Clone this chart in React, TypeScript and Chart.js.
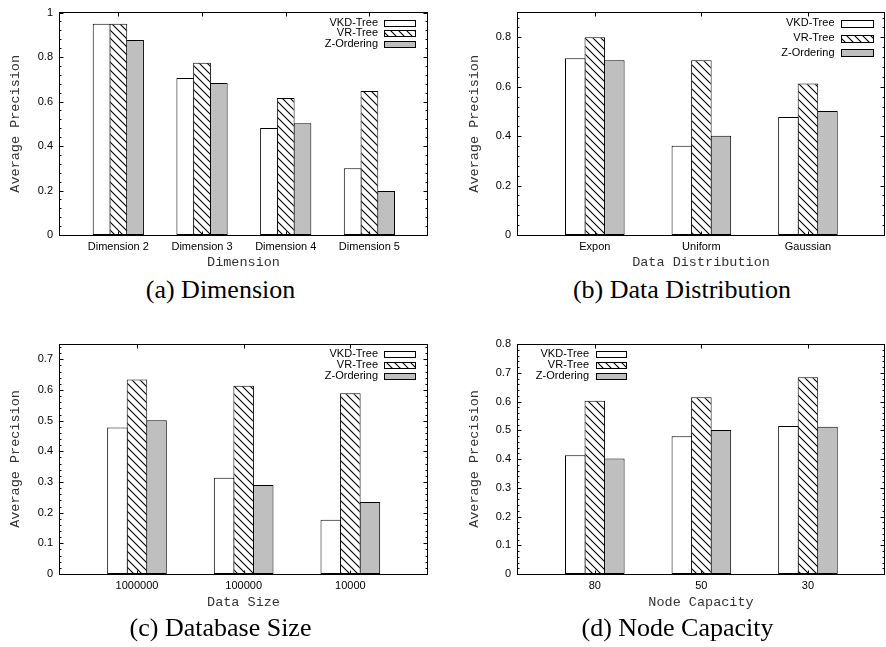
import React, { useEffect, useRef } from 'react';
import { Chart, registerables } from 'chart.js';

Chart.register(...registerables);

// ---------- data ----------
const seriesNames = ['VKD-Tree', 'VR-Tree', 'Z-Ordering'];

const dimLabels = ['Dimension 2', 'Dimension 3', 'Dimension 4', 'Dimension 5'];
const dimVKD = [0.95, 0.706, 0.481, 0.30];
const dimVR = [0.95, 0.775, 0.616, 0.647];
const dimZ = [0.877, 0.683, 0.503, 0.198];

const distLabels = ['Expon', 'Uniform', 'Gaussian'];
const distVKD = [0.715, 0.361, 0.478];
const distVR = [0.80, 0.707, 0.613];
const distZ = [0.707, 0.402, 0.502];

const sizeLabels = ['1000000', '100000', '10000'];
const sizeVKD = [0.478, 0.314, 0.177];
const sizeVR = [0.634, 0.614, 0.589];
const sizeZ = [0.501, 0.29, 0.235];

const capLabels = ['80', '50', '30'];
const capVKD = [0.413, 0.479, 0.515];
const capVR = [0.603, 0.615, 0.684];
const capZ = [0.402, 0.501, 0.512];

const yTitle = 'Average Precision';

// ---------- styling ----------
const SANS = 'Liberation Sans, Arial, sans-serif';
const MONO = 'Liberation Mono, Courier New, monospace';
const SERIF = 'Liberation Serif, Times New Roman, serif';
const GRAY_FILL = '#bfbfbf';

function makeHatch(): CanvasPattern | string {
  const s = 8;
  const c = document.createElement('canvas');
  c.width = s;
  c.height = s;
  const g = c.getContext('2d');
  if (!g) return '#888';
  g.fillStyle = '#fff';
  g.fillRect(0, 0, s, s);
  g.strokeStyle = '#000';
  g.lineWidth = 1.1;
  g.beginPath();
  g.moveTo(-1, -1);
  g.lineTo(s + 1, s + 1);
  g.moveTo(-1, s - 1);
  g.lineTo(1, s + 1);
  g.moveTo(s - 1, -1);
  g.lineTo(s + 1, 1);
  g.stroke();
  const p = g.createPattern(c, 'repeat');
  return p || '#888';
}

type LegendCfg = {
  side: 'left' | 'right';
  offset: number;
  boxW: number;
  boxH: number;
  first: number;
  gap: number;
  textGap: number;
};

type PanelCfg = {
  left: number;
  top: number;
  width: number;
  height: number;
  padTop: number;
  padRight: number;
  yAxisW: number;
  xAxisH: number;
  yTitlePad: number;
  yMax: number;
  yStep: number;
  xMin: number;
  xMax: number;
  catPct: number;
  barPct: number;
  labels: string[];
  series: number[][];
  xTitle: string;
  legend: LegendCfg;
  caption: string;
  capX: number;
  capY: number;
};

const framePlugin = {
  id: 'gnuFrame',
  afterDatasetsDraw(chart: any, _args: any, opts: any) {
    const { ctx, chartArea: a } = chart;
    const xs = chart.scales.x;
    const ys = chart.scales.y;
    const L = Math.floor(a.left) + 0.5;
    const R = Math.floor(a.right) - 0.5;
    const T = Math.floor(a.top) + 0.5;
    const B = Math.floor(a.bottom) + 0.5;
    ctx.save();
    ctx.strokeStyle = '#000';
    ctx.lineWidth = 1;
    ctx.beginPath();
    // y major ticks
    ys.ticks.forEach((t: any) => {
      const py = Math.round(ys.getPixelForValue(t.value)) + 0.5;
      ctx.moveTo(L, py); ctx.lineTo(L + 4, py);
      ctx.moveTo(R, py); ctx.lineTo(R - 4, py);
    });
    // y minor ticks
    const step = opts.yStep / 5;
    for (let k = 1; k * step <= ys.max + 1e-9; k++) {
      if (k % 5 === 0) continue;
      const py = Math.round(ys.getPixelForValue(k * step)) + 0.5;
      ctx.moveTo(L, py); ctx.lineTo(L + 2, py);
      ctx.moveTo(R, py); ctx.lineTo(R - 2, py);
    }
    // x ticks
    xs.ticks.forEach((t: any) => {
      const px = Math.round(xs.getPixelForValue(t.value)) + 0.5;
      ctx.moveTo(px, B); ctx.lineTo(px, B - 4);
      ctx.moveTo(px, T); ctx.lineTo(px, T + 4);
    });
    ctx.stroke();
    ctx.strokeRect(L, T, R - L, B - T);

    // legend (gnuplot style: text then sample box)
    const lg: LegendCfg = opts.legend;
    ctx.font = `11px ${SANS}`;
    ctx.textAlign = 'right';
    ctx.textBaseline = 'middle';
    chart.data.datasets.forEach((ds: any, i: number) => {
      const cy = a.top + lg.first + i * lg.gap;
      const bx = lg.side === 'right' ? a.right - lg.offset - lg.boxW : a.left + lg.offset;
      ctx.fillStyle = '#000';
      ctx.fillText(ds.label, bx - lg.textGap, cy);
      const by = Math.round(cy - lg.boxH / 2) + 0.5;
      const bxr = Math.round(bx) + 0.5;
      ctx.fillStyle = ds.backgroundColor;
      ctx.fillRect(bxr, by, lg.boxW, lg.boxH);
      ctx.strokeRect(bxr, by, lg.boxW, lg.boxH);
    });
    ctx.restore();
  },
};

function Panel({ cfg }: { cfg: PanelCfg }) {
  const ref = useRef<HTMLCanvasElement | null>(null);
  useEffect(() => {
    if (!ref.current) return;
    const hatch = makeHatch();
    const fills = ['#ffffff', hatch, GRAY_FILL];
    const datasets = seriesNames.map((name, i) => ({
      label: name,
      data: cfg.labels.map((_, j) => ({ x: j, y: cfg.series[i][j] })),
      backgroundColor: fills[i],
      borderColor: '#000',
      borderWidth: 1,
      borderSkipped: false,
      categoryPercentage: cfg.catPct,
      barPercentage: cfg.barPct,
    }));
    const tickFont = { family: SANS, size: 11 };
    const monoFont = { family: MONO, size: 13.5 };
    const chart = new Chart(ref.current, {
      type: 'bar',
      data: { datasets } as any,
      options: {
        responsive: false,
        animation: false,
        devicePixelRatio: 1,
        layout: { padding: { top: cfg.padTop, right: cfg.padRight, left: 0, bottom: 0 } },
        plugins: {
          legend: { display: false },
          tooltip: { enabled: false },
          gnuFrame: { yStep: cfg.yStep, legend: cfg.legend },
        } as any,
        scales: {
          x: {
            type: 'linear',
            min: cfg.xMin,
            max: cfg.xMax,
            offset: false,
            grid: { display: false, drawTicks: false, tickLength: 0 },
            border: { display: false },
            afterBuildTicks: (ax: any) => {
              ax.ticks = cfg.labels.map((_, i) => ({ value: i }));
            },
            ticks: {
              callback: (v: any) => cfg.labels[Math.round(v)] ?? '',
              font: tickFont,
              color: '#000',
              padding: 5,
              autoSkip: false,
              maxRotation: 0,
              minRotation: 0,
            },
            title: {
              display: true,
              text: cfg.xTitle,
              font: monoFont,
              color: '#333',
              padding: { top: 0, bottom: 4 },
            },
            afterFit: (ax: any) => {
              ax.height = cfg.xAxisH;
            },
          },
          y: {
            type: 'linear',
            min: 0,
            max: cfg.yMax,
            grid: { display: false, drawTicks: false, tickLength: 0 },
            border: { display: false },
            afterBuildTicks: (ax: any) => {
              ax.ticks = ax.ticks.filter((t: any) => {
                const r = t.value / cfg.yStep;
                return Math.abs(r - Math.round(r)) < 1e-6;
              });
            },
            ticks: {
              stepSize: cfg.yStep,
              font: tickFont,
              color: '#000',
              padding: 6,
              callback: (v: any) => String(Number(Number(v).toFixed(2))),
            },
            title: {
              display: true,
              text: yTitle,
              font: monoFont,
              color: '#333',
              padding: { top: cfg.yTitlePad, bottom: 0 },
            },
            afterFit: (ax: any) => {
              ax.width = cfg.yAxisW;
            },
          },
        },
      } as any,
      plugins: [framePlugin as any],
    });
    return () => chart.destroy();
  }, [cfg]);

  return (
    <>
      <canvas
        ref={ref}
        width={cfg.width}
        height={cfg.height}
        style={{ position: 'absolute', left: cfg.left, top: cfg.top, width: cfg.width, height: cfg.height }}
      />
      <div
        style={{
          position: 'absolute',
          left: cfg.capX - 200,
          top: cfg.capY - 15,
          width: 400,
          height: 30,
          lineHeight: '30px',
          textAlign: 'center',
          fontFamily: SERIF,
          fontSize: 26,
          color: '#000',
          whiteSpace: 'nowrap',
        }}
      >
        {cfg.caption}
      </div>
    </>
  );
}

const legendRightA: LegendCfg = { side: 'right', offset: 13, boxW: 31, boxH: 6, first: 10, gap: 10.85, textGap: 6 };
const legendRightB: LegendCfg = { side: 'right', offset: 12.5, boxW: 32, boxH: 7, first: 10.7, gap: 14.7, textGap: 6 };
const legendRightC: LegendCfg = { side: 'right', offset: 13, boxW: 31, boxH: 6, first: 10, gap: 11, textGap: 6 };
const legendLeftD: LegendCfg = { side: 'left', offset: 79, boxW: 30, boxH: 6, first: 10, gap: 11, textGap: 7 };

const panels: PanelCfg[] = [
  {
    left: 0, top: 0, width: 443, height: 275, padTop: 5, padRight: 15, yAxisW: 59, xAxisH: 40,
    yTitlePad: 7, yMax: 1, yStep: 0.2, xMin: -0.709, xMax: 3.70, catPct: 0.6, barPct: 1.06,
    labels: dimLabels, series: [dimVKD, dimVR, dimZ], xTitle: 'Dimension',
    legend: legendRightA, caption: '(a) Dimension', capX: 220.5, capY: 290,
  },
  {
    left: 443, top: 0, width: 443, height: 275, padTop: 5, padRight: 1, yAxisW: 74, xAxisH: 40,
    yTitlePad: 23.6, yMax: 0.9, yStep: 0.2, xMin: -0.73, xMax: 2.723, catPct: 0.55, barPct: 1.05,
    labels: distLabels, series: [distVKD, distVR, distZ], xTitle: 'Data Distribution',
    legend: legendRightB, caption: '(b) Data Distribution', capX: 682, capY: 290,
  },
  {
    left: 0, top: 320, width: 443, height: 295, padTop: 24, padRight: 15, yAxisW: 59, xAxisH: 41,
    yTitlePad: 7, yMax: 0.75, yStep: 0.1, xMin: -0.731, xMax: 2.728, catPct: 0.55, barPct: 1.05,
    labels: sizeLabels, series: [sizeVKD, sizeVR, sizeZ], xTitle: 'Data Size',
    legend: legendRightC, caption: '(c) Database Size', capX: 220.5, capY: 627.5,
  },
  {
    left: 443, top: 320, width: 443, height: 295, padTop: 24, padRight: 1, yAxisW: 74, xAxisH: 41,
    yTitlePad: 23.6, yMax: 0.8, yStep: 0.1, xMin: -0.73, xMax: 2.723, catPct: 0.55, barPct: 1.05,
    labels: capLabels, series: [capVKD, capVR, capZ], xTitle: 'Node Capacity',
    legend: legendLeftD, caption: '(d) Node Capacity', capX: 677.5, capY: 627.5,
  },
];

export default function App() {
  return (
    <div style={{ position: 'absolute', left: 0, top: 0, width: 886, height: 647, background: '#fff', overflow: 'hidden' }}>
      {panels.map((p, i) => (
        <Panel key={i} cfg={p} />
      ))}
    </div>
  );
}
